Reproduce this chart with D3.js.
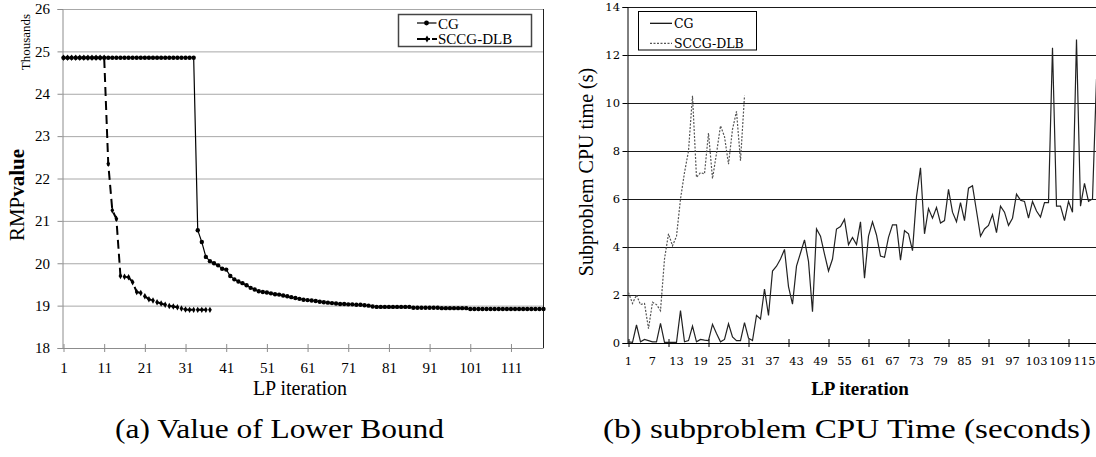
<!DOCTYPE html>
<html>
<head>
<meta charset="utf-8">
<script src="https://cdn.jsdelivr.net/npm/d3@7/dist/d3.min.js"></script>
<style>
body { margin: 0; background: #fff; }
svg { display: block; }
.times { font-family: 'Liberation Serif', 'Times New Roman', Times, serif; }
.century { font-family: 'DejaVu Serif', serif; }
</style>
</head>
<body>
<svg id="chart" width="1096" height="457"></svg>
<script>
// ---- data: (a) RMP value (thousands), one value per LP iteration starting at 1
const lbCG = [
    24.85, 24.85, 24.85, 24.85, 24.85, 24.85, 24.85, 24.85, 24.85, 24.85,
    24.85, 24.85, 24.85, 24.85, 24.85, 24.85, 24.85, 24.85, 24.85, 24.85,
    24.85, 24.85, 24.85, 24.85, 24.85, 24.85, 24.85, 24.85, 24.85, 24.85,
    24.85, 24.85, 24.85, 20.78, 20.5, 20.15, 20.05, 20.0, 19.95, 19.87,
    19.85, 19.7, 19.62, 19.57, 19.53, 19.48, 19.42, 19.38, 19.34, 19.32,
    19.31, 19.29, 19.27, 19.26, 19.24, 19.22, 19.2, 19.18, 19.16, 19.14,
    19.13, 19.12, 19.11, 19.09, 19.08, 19.07, 19.06, 19.05, 19.04, 19.04,
    19.03, 19.03, 19.02, 19.02, 19.01, 19.0, 18.98, 18.97, 18.97, 18.97,
    18.97, 18.97, 18.97, 18.97, 18.97, 18.97, 18.95, 18.95, 18.95, 18.95,
    18.95, 18.95, 18.95, 18.94, 18.94, 18.94, 18.94, 18.94, 18.94, 18.94,
    18.92, 18.92, 18.92, 18.92, 18.92, 18.92, 18.92, 18.92, 18.92, 18.92,
    18.92, 18.92, 18.92, 18.92, 18.92, 18.92, 18.92, 18.92, 18.92
];
const lbSCCG = [
    24.85, 24.85, 24.85, 24.85, 24.85, 24.85, 24.85, 24.85, 24.85, 24.85,
    24.85, 22.35, 21.25, 21.05, 19.7, 19.68, 19.67, 19.55, 19.32, 19.3,
    19.22, 19.15, 19.12, 19.08, 19.05, 19.02, 18.99, 18.98, 18.96, 18.93,
    18.91, 18.9, 18.9, 18.9, 18.9, 18.9, 18.9
];
const lbXTicks = [1, 11, 21, 31, 41, 51, 61, 71, 81, 91, 101, 111];
const lbYTicks = [18, 19, 20, 21, 22, 23, 24, 25, 26];

// ---- data: (b) subproblem CPU time (s)
const cpuCG = [
    0.05, 0.03, 0.75, 0.05, 0.15, 0.1, 0.05, 0.05, 0.82, 0.03,
    0.03, 0.03, 0.03, 1.35, 0.05, 0.1, 0.7, 0.05, 0.15, 0.12,
    0.1, 0.78, 0.4, 0.05, 0.15, 0.8, 0.25, 0.1, 0.1, 0.85,
    0.2, 0.1, 1.15, 1.0, 2.25, 1.15, 3.0, 3.2, 3.5, 3.9,
    2.35, 1.62, 3.2, 3.75, 4.3, 3.4, 1.3, 4.75, 4.45, 3.7,
    3.0, 3.5, 4.75, 4.85, 5.15, 4.1, 4.4, 4.1, 5.05, 2.7,
    4.45, 5.05, 4.5, 3.62, 3.57, 4.4, 4.92, 4.92, 3.45, 4.68,
    4.55, 3.85, 6.1, 7.3, 4.55, 5.6, 5.2, 5.65, 5.0, 5.1,
    6.4, 5.45, 5.05, 5.85, 5.1, 6.45, 6.55, 5.5, 4.45, 4.75,
    4.9, 5.35, 4.6, 5.7, 5.45, 4.9, 5.2, 6.2, 5.95, 5.9,
    5.2, 5.9, 5.5, 5.25, 5.85, 5.85, 12.3, 5.7, 5.7, 5.1,
    5.9, 5.45, 12.65, 5.7, 6.65, 5.9, 6.0, 11.0
];
const cpuSCCG = [
    2.1, 1.65, 2.0, 1.6, 1.65, 0.6, 1.7, 1.6, 1.35, 3.5,
    4.55, 4.05, 4.45, 6.0, 7.1, 8.0, 10.3, 6.9, 7.1, 7.05,
    8.75, 6.85, 7.9, 9.05, 8.6, 7.45, 8.9, 9.65, 7.6, 10.3
];
const cpuXLabels = [1, 7, 13, 19, 25, 31, 37, 43, 49, 55, 61, 67, 73, 79, 85, 91, 97, 103, 109, 115];
const cpuXTicks = [1, 11, 21, 31, 41, 51, 61, 71, 81, 91, 101, 111];
const cpuYTicks = [0, 2, 4, 6, 8, 10, 12, 14];

const seriesNames = ['CG', 'SCCG-DLB'];

const svg = d3.select('#chart');

drawLowerBound();
drawCpuTime();
drawCaptions();

function drawLowerBound() {
    const x = d3.scaleLinear().domain([1, 119]).range([63.5, 543.5]);
    const y = d3.scaleLinear().domain([18, 26]).range([348, 9]);
    const g = svg.append('g');

    // gridlines
    g.append('g')
        .call(d3.axisLeft(y).tickValues(lbYTicks.slice(1)).tickSize(-(543.5 - 62.5)).tickFormat(''))
        .attr('transform', 'translate(62.5,0)')
        .call(s => s.select('.domain').remove())
        .selectAll('line').attr('stroke', '#a8a8a8');

    // y axis
    const yAxis = g.append('g')
        .attr('transform', 'translate(62.5,0)')
        .call(d3.axisLeft(y).tickValues(lbYTicks).tickSize(5).tickPadding(7.5));
    yAxis.attr('font-family', null);
    yAxis.select('.domain').attr('stroke', '#8c8c8c');
    yAxis.selectAll('line').attr('stroke', '#8c8c8c');
    yAxis.selectAll('text')
        .attr('class', 'times').attr('font-size', 15).attr('fill', '#000');

    // x axis
    const xAxis = g.append('g')
        .attr('transform', 'translate(0,348)')
        .call(d3.axisBottom(x).tickValues(lbXTicks).tickSize(4));
    xAxis.attr('font-family', null);
    xAxis.select('.domain').attr('d', 'M62.5,0.5H543.5').attr('stroke', '#8c8c8c');
    xAxis.selectAll('line').attr('y1', -4).attr('stroke', '#8c8c8c');
    xAxis.selectAll('text')
        .attr('y', 25).attr('dy', null)
        .attr('class', 'times').attr('font-size', 15).attr('fill', '#000');

    // right border
    g.append('line')
        .attr('x1', 543.5).attr('x2', 543.5).attr('y1', 9).attr('y2', 348)
        .attr('stroke', '#222');

    const line = d3.line().x((d, i) => x(i + 1)).y(d => y(d));

    g.append('path').datum(lbSCCG)
        .attr('d', line).attr('fill', 'none')
        .attr('stroke', '#000').attr('stroke-width', 2).attr('stroke-dasharray', '9,5');
    g.append('g').selectAll('path').data(lbSCCG).enter().append('path')
        .attr('d', d3.symbol(d3.symbolDiamond, 12))
        .attr('transform', (d, i) => `translate(${x(i + 1)},${y(d)})`)
        .attr('fill', '#000');

    g.append('path').datum(lbCG)
        .attr('d', line).attr('fill', 'none')
        .attr('stroke', '#000').attr('stroke-width', 1.2);
    g.append('g').selectAll('circle').data(lbCG).enter().append('circle')
        .attr('cx', (d, i) => x(i + 1)).attr('cy', d => y(d)).attr('r', 2.2)
        .attr('fill', '#000');

    // titles
    g.append('text')
        .attr('class', 'times')
        .attr('transform', 'translate(29.5,42) rotate(-90)')
        .attr('text-anchor', 'middle')
        .attr('font-size', 13)
        .text('Thousands');
    const yTitle = g.append('text')
        .attr('class', 'times')
        .attr('transform', 'translate(24,195) rotate(-90)')
        .attr('text-anchor', 'middle')
        .attr('font-size', 21);
    yTitle.append('tspan').text('RMP');
    yTitle.append('tspan').attr('font-weight', 'bold').text('value');
    g.append('text')
        .attr('class', 'times')
        .attr('x', 300).attr('y', 395)
        .attr('text-anchor', 'middle')
        .attr('font-size', 20)
        .text('LP iteration');

    // legend
    const lg = g.append('g');
    lg.append('rect')
        .attr('x', 398.5).attr('y', 14.5).attr('width', 133).attr('height', 32)
        .attr('fill', '#fff').attr('stroke', '#444').attr('stroke-width', 1.5);
    lg.append('line')
        .attr('x1', 417).attr('x2', 436.5).attr('y1', 23).attr('y2', 23)
        .attr('stroke', '#000').attr('stroke-width', 1.2);
    lg.append('circle').attr('cx', 426.5).attr('cy', 23).attr('r', 2.4).attr('fill', '#000');
    lg.append('line')
        .attr('x1', 417).attr('x2', 437).attr('y1', 39).attr('y2', 39)
        .attr('stroke', '#000').attr('stroke-width', 2).attr('stroke-dasharray', '13,2,5');
    lg.append('path')
        .attr('d', d3.symbol(d3.symbolDiamond, 14))
        .attr('transform', 'translate(427,39)').attr('fill', '#000');
    lg.selectAll('text').data(seriesNames).enter().append('text')
        .attr('class', 'times')
        .attr('x', 438).attr('y', (d, i) => 28.5 + i * 15.5)
        .attr('font-size', 15)
        .text(d => d);
}

function drawCpuTime() {
    const x = d3.scaleLinear().domain([1, 118]).range([628.5, 1096.5]);
    const y = d3.scaleLinear().domain([0, 14]).range([343, 7]);
    const g = svg.append('g');

    // gridlines
    g.append('g')
        .attr('transform', 'translate(627.5,0)')
        .call(d3.axisLeft(y).tickValues(cpuYTicks.slice(1)).tickSize(-(1096 - 627.5)).tickFormat(''))
        .call(s => s.select('.domain').remove())
        .selectAll('line').attr('stroke', '#1a1a1a').attr('stroke-width', 1.2);

    const yAxis = g.append('g')
        .attr('transform', 'translate(627.5,0)')
        .call(d3.axisLeft(y).tickValues(cpuYTicks).tickSize(5).tickPadding(2.5));
    yAxis.attr('font-family', null);
    yAxis.selectAll('.domain, line').attr('stroke', '#000');
    yAxis.selectAll('text')
        .attr('class', 'century').attr('font-size', 11.5).attr('fill', '#000');

    const xAxis = g.append('g')
        .attr('transform', 'translate(0,343)')
        .call(d3.axisBottom(x).tickValues(cpuXTicks).tickSize(4).tickFormat(''));
    xAxis.select('.domain').attr('d', 'M627.5,0.5H1096').attr('stroke', '#000');
    xAxis.selectAll('line').attr('y1', -4).attr('stroke', '#000');

    g.append('g').selectAll('text').data(cpuXLabels).enter().append('text')
        .attr('class', 'century')
        .attr('x', d => x(d)).attr('y', 365)
        .attr('text-anchor', 'middle')
        .attr('font-size', 11.5)
        .text(d => d);

    const line = d3.line().x((d, i) => x(i + 1)).y(d => y(d));

    g.append('path').datum(cpuCG)
        .attr('d', line).attr('fill', 'none')
        .attr('stroke', '#222').attr('stroke-width', 1.2);
    g.append('path').datum(cpuSCCG)
        .attr('d', line).attr('fill', 'none')
        .attr('stroke', '#555').attr('stroke-width', 1.2).attr('stroke-dasharray', '2,1.5');

    g.append('text')
        .attr('class', 'times')
        .attr('transform', 'translate(593,172) rotate(-90)')
        .attr('text-anchor', 'middle')
        .attr('font-size', 20)
        .text('Subproblem CPU time (s)');
    g.append('text')
        .attr('class', 'times')
        .attr('x', 860).attr('y', 395)
        .attr('text-anchor', 'middle')
        .attr('font-size', 19).attr('font-weight', 'bold')
        .text('LP iteration');

    // legend
    const lg = g.append('g');
    lg.append('rect')
        .attr('x', 638.5).attr('y', 11.5).attr('width', 118).attr('height', 38.5)
        .attr('fill', '#fff').attr('stroke', '#000');
    lg.append('line')
        .attr('x1', 650).attr('x2', 672).attr('y1', 23.3).attr('y2', 23.3)
        .attr('stroke', '#000').attr('stroke-width', 1.2);
    lg.append('line')
        .attr('x1', 650).attr('x2', 672).attr('y1', 43.3).attr('y2', 43.3)
        .attr('stroke', '#555').attr('stroke-width', 1.2).attr('stroke-dasharray', '2,1.5');
    lg.selectAll('text').data(seriesNames).enter().append('text')
        .attr('class', 'century')
        .attr('x', 674).attr('y', (d, i) => 27.5 + i * 20)
        .attr('font-size', 12.5)
        .text(d => d);
}

function drawCaptions() {
    const captions = [
        { text: '(a) Value of Lower Bound', x: 115, w: 329 },
        { text: '(b) subproblem CPU Time (seconds)', x: 603, w: 488 }
    ];
    svg.append('g').selectAll('text').data(captions).enter().append('text')
        .attr('class', 'times')
        .attr('x', d => d.x).attr('y', 438)
        .attr('textLength', d => d.w).attr('lengthAdjust', 'spacingAndGlyphs')
        .attr('font-size', 27)
        .text(d => d.text);
}
</script>
</body>
</html>
